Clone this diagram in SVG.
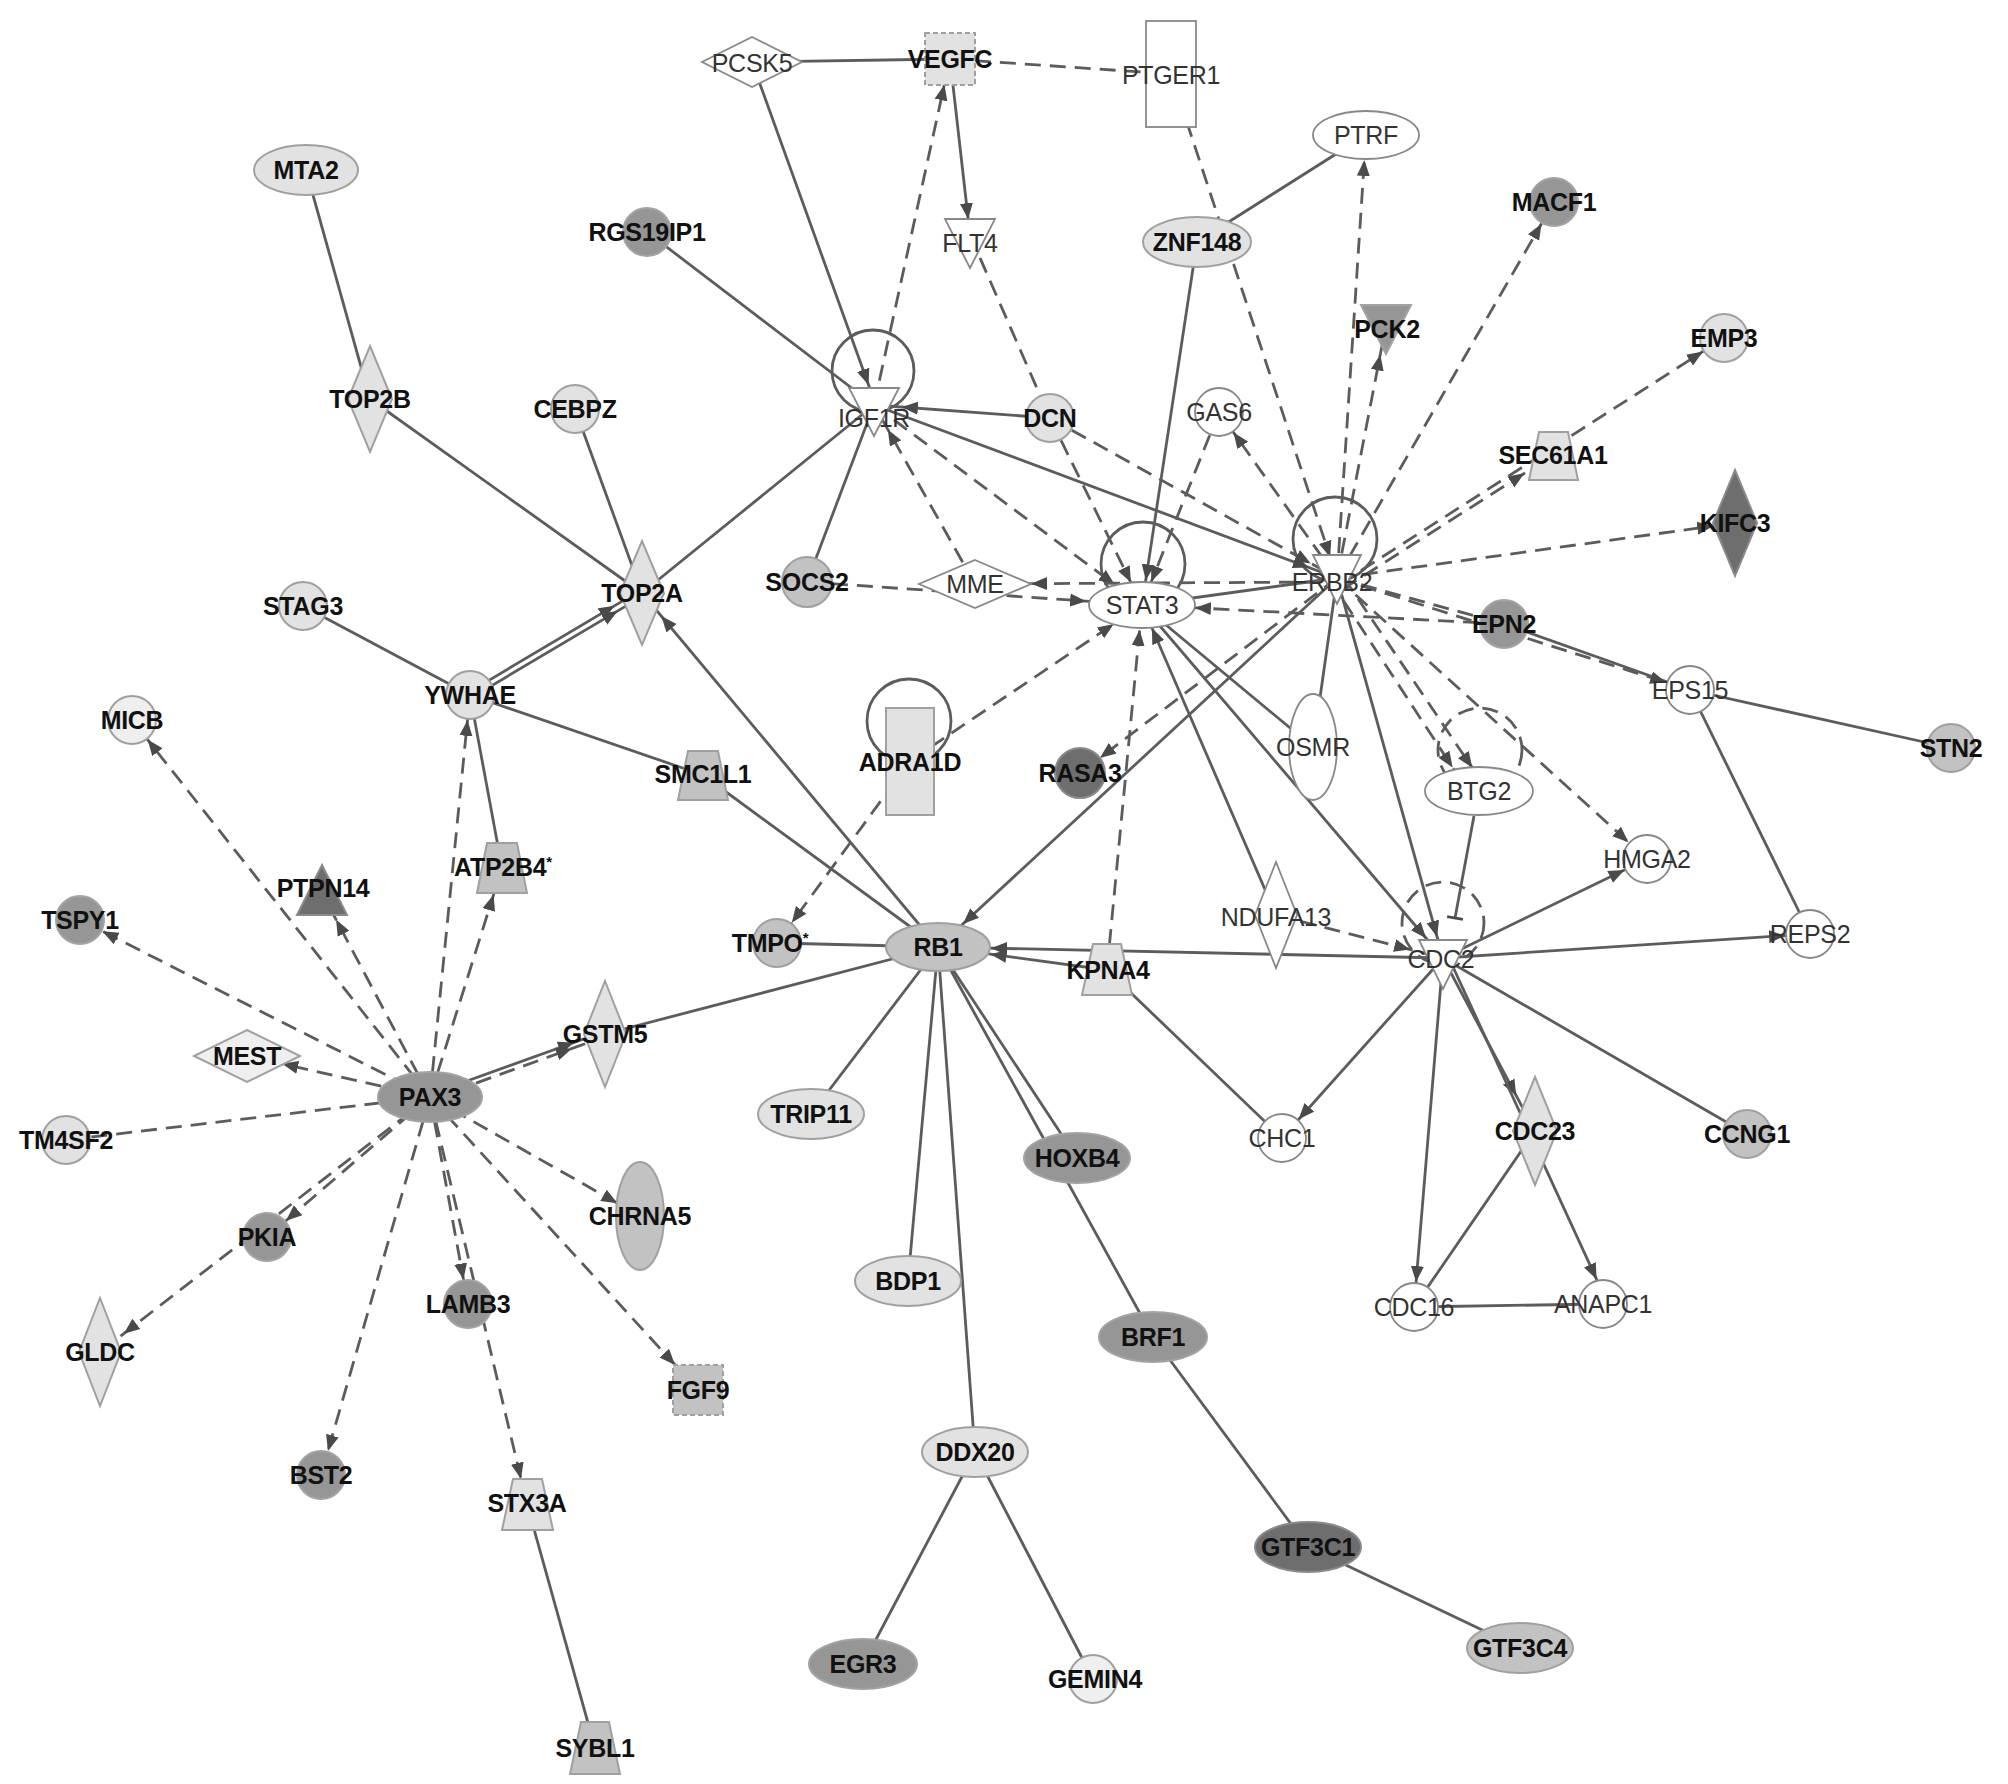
<svg xmlns="http://www.w3.org/2000/svg" width="2008" height="1784" viewBox="0 0 2008 1784">
<style>
.bg{fill:#fff}
.s{stroke:#5c5c5c;stroke-width:2.8;fill:none}
.ds{stroke:#5c5c5c;stroke-width:2.8;fill:none;stroke-dasharray:16 9}
.ah{fill:#4a4a4a}
.w{fill:#fff;stroke:#888;stroke-width:1.8}
.l1{fill:#efefef;stroke:#a0a0a0;stroke-width:2}
.l2{fill:#e2e2e2;stroke:#a0a0a0;stroke-width:2}
.m{fill:#c2c2c2;stroke:#a0a0a0;stroke-width:2}
.md{fill:#969696;stroke:#a3a3a3;stroke-width:2}
.d{fill:#6e6e6e;stroke:#8a8a8a;stroke-width:2}
.dash{stroke-dasharray:5 3}
text{font-family:"Liberation Sans",Arial,sans-serif;font-size:25px;text-anchor:middle;letter-spacing:-0.3px}
.b{font-weight:bold;fill:#111}
.t{fill:#333}
</style>
<defs>
<marker id="a16" viewBox="0 -7 16 14" refX="32" refY="0" markerWidth="16" markerHeight="14" markerUnits="userSpaceOnUse" orient="auto"><path class="ah" d="M0,-6.5L16,0L0,6.5Z"/></marker>
<marker id="a22" viewBox="0 -7 16 14" refX="38" refY="0" markerWidth="16" markerHeight="14" markerUnits="userSpaceOnUse" orient="auto"><path class="ah" d="M0,-6.5L16,0L0,6.5Z"/></marker>
<marker id="a25" viewBox="0 -7 16 14" refX="41" refY="0" markerWidth="16" markerHeight="14" markerUnits="userSpaceOnUse" orient="auto"><path class="ah" d="M0,-6.5L16,0L0,6.5Z"/></marker>
<marker id="a26" viewBox="0 -7 16 14" refX="42" refY="0" markerWidth="16" markerHeight="14" markerUnits="userSpaceOnUse" orient="auto"><path class="ah" d="M0,-6.5L16,0L0,6.5Z"/></marker>
<marker id="a28" viewBox="0 -7 16 14" refX="44" refY="0" markerWidth="16" markerHeight="14" markerUnits="userSpaceOnUse" orient="auto"><path class="ah" d="M0,-6.5L16,0L0,6.5Z"/></marker>
<marker id="a30" viewBox="0 -7 16 14" refX="46" refY="0" markerWidth="16" markerHeight="14" markerUnits="userSpaceOnUse" orient="auto"><path class="ah" d="M0,-6.5L16,0L0,6.5Z"/></marker>
<marker id="a34" viewBox="0 -7 16 14" refX="50" refY="0" markerWidth="16" markerHeight="14" markerUnits="userSpaceOnUse" orient="auto"><path class="ah" d="M0,-6.5L16,0L0,6.5Z"/></marker>
<marker id="a36" viewBox="0 -7 16 14" refX="52" refY="0" markerWidth="16" markerHeight="14" markerUnits="userSpaceOnUse" orient="auto"><path class="ah" d="M0,-6.5L16,0L0,6.5Z"/></marker>
<marker id="a40" viewBox="0 -7 16 14" refX="56" refY="0" markerWidth="16" markerHeight="14" markerUnits="userSpaceOnUse" orient="auto"><path class="ah" d="M0,-6.5L16,0L0,6.5Z"/></marker>
<marker id="a53" viewBox="0 -7 16 14" refX="69" refY="0" markerWidth="16" markerHeight="14" markerUnits="userSpaceOnUse" orient="auto"><path class="ah" d="M0,-6.5L16,0L0,6.5Z"/></marker>
<marker id="a56" viewBox="0 -7 16 14" refX="72" refY="0" markerWidth="16" markerHeight="14" markerUnits="userSpaceOnUse" orient="auto"><path class="ah" d="M0,-6.5L16,0L0,6.5Z"/></marker>
<marker id="tbar" viewBox="-2 -9 4 18" refX="0" refY="0" markerWidth="4" markerHeight="18" markerUnits="userSpaceOnUse" orient="auto"><path d="M0,-8V8" stroke="#4a4a4a" stroke-width="2.8"/></marker>
</defs>
<rect class="bg" x="0" y="0" width="2008" height="1784"/>
<g id="connectors">
<circle class="s" cx="873" cy="371" r="41"/>
<circle class="s" cx="1143" cy="564" r="42"/>
<circle class="s" cx="1335" cy="539" r="42"/>
<circle class="s" cx="909" cy="721" r="42"/>
<circle class="ds" cx="1480" cy="750" r="42"/>
<circle class="ds" cx="1443" cy="923" r="41"/>
<path class="s" d="M752,62L950,59"/>
<path class="s" d="M752,62L874,400" marker-end="url(#a16)"/>
<path class="s" d="M950,59L970,235" marker-end="url(#a16)"/>
<path class="s" d="M1197,242L1366,135"/>
<path class="s" d="M1197,242L1142,605" marker-end="url(#a25)"/>
<path class="s" d="M647,232L874,405"/>
<path class="s" d="M1050,418L874,405" marker-end="url(#a28)"/>
<path class="s" d="M874,405L807,582"/>
<path class="s" d="M874,405L642,593"/>
<path class="s" d="M874,405L1337,578" marker-end="url(#a30)"/>
<path class="s" d="M1142,605L1337,578"/>
<path class="s" d="M1142,605L1313,747"/>
<path class="s" d="M1337,578L1313,747"/>
<path class="s" d="M1276,915L1142,605" marker-end="url(#a25)"/>
<path class="s" d="M1142,605L1443,958" marker-end="url(#a26)"/>
<path class="s" d="M1337,578L1443,958" marker-end="url(#a22)"/>
<path class="s" d="M1337,578L938,947" marker-end="url(#a34)"/>
<path class="s" d="M1474,816L1455,918" marker-end="url(#tbar)"/>
<path class="s" d="M1443,958L1647,859" marker-end="url(#a25)"/>
<path class="s" d="M1443,958L1810,934" marker-end="url(#a25)"/>
<path class="s" d="M1443,958L938,947" marker-end="url(#a53)"/>
<path class="s" d="M1107,970L938,947" marker-end="url(#a53)"/>
<path class="s" d="M1107,970L1282,1138"/>
<path class="s" d="M1443,958L1282,1138" marker-end="url(#a25)"/>
<path class="s" d="M1443,958L1414,1307" marker-end="url(#a25)"/>
<path class="s" d="M1443,958L1535,1131" marker-end="url(#a40)"/>
<path class="s" d="M1448,956L1607,1302" marker-end="url(#a25)"/>
<path class="s" d="M1443,958L1747,1134"/>
<path class="s" d="M1535,1131L1414,1307"/>
<path class="s" d="M1414,1307L1603,1304"/>
<path class="s" d="M1504,624L1690,690"/>
<path class="s" d="M1690,690L1951,748"/>
<path class="s" d="M1690,690L1810,934"/>
<path class="s" d="M938,947L777,943"/>
<path class="s" d="M938,947L642,593" marker-end="url(#a30)"/>
<path class="s" d="M938,947L703,775"/>
<path class="s" d="M938,947L605,1034"/>
<path class="s" d="M938,947L811,1114"/>
<path class="s" d="M938,947L908,1281"/>
<path class="s" d="M938,947L975,1452"/>
<path class="s" d="M938,947L1077,1158"/>
<path class="s" d="M938,947L1153,1337"/>
<path class="s" d="M1153,1337L1308,1547"/>
<path class="s" d="M1308,1547L1520,1648"/>
<path class="s" d="M975,1452L863,1664"/>
<path class="s" d="M975,1452L1093,1679"/>
<path class="s" d="M303,606L470,695"/>
<path class="s" d="M471.5,697.6L643.5,595.6" marker-end="url(#a30)"/>
<path class="s" d="M468.5,692.4L640.5,590.4" marker-end="url(#a30)"/>
<path class="s" d="M470,695L703,775"/>
<path class="s" d="M470,695L502,868"/>
<path class="s" d="M306,170L370,399"/>
<path class="s" d="M370,399L642,593"/>
<path class="s" d="M575,409L642,593"/>
<path class="s" d="M431,1094L606,1031" marker-end="url(#a34)"/>
<path class="s" d="M527,1504L595,1748"/>
<path class="ds" d="M950,59L1171,74"/>
<path class="ds" d="M874,405L950,59" marker-end="url(#a26)"/>
<path class="ds" d="M970,235L1050,418"/>
<path class="ds" d="M1171,74L1337,578" marker-end="url(#a22)"/>
<path class="ds" d="M975,584L874,405" marker-end="url(#a28)"/>
<path class="ds" d="M874,405L1142,605" marker-end="url(#a34)"/>
<path class="ds" d="M1050,418L1142,605" marker-end="url(#a25)"/>
<path class="ds" d="M1050,418L1337,578" marker-end="url(#a30)"/>
<path class="ds" d="M1219,412L1142,605" marker-end="url(#a25)"/>
<path class="ds" d="M1337,578L1219,412" marker-end="url(#a25)"/>
<path class="ds" d="M1337,578L1366,135" marker-end="url(#a25)"/>
<path class="ds" d="M1337,578L1386,325" marker-end="url(#a30)"/>
<path class="ds" d="M1337,578L1554,202" marker-end="url(#a25)"/>
<path class="ds" d="M1343,589L1553,455" marker-end="url(#a34)"/>
<path class="ds" d="M1340,584L1724,338" marker-end="url(#a25)"/>
<path class="ds" d="M1337,578L1735,523" marker-end="url(#a22)"/>
<path class="ds" d="M1337,578L1504,624"/>
<path class="ds" d="M1337,578L1690,690" marker-end="url(#a25)"/>
<path class="ds" d="M1504,624L1142,605" marker-end="url(#a53)"/>
<path class="ds" d="M1337,578L1647,859" marker-end="url(#a25)"/>
<path class="ds" d="M1330,580L1468,791" marker-end="url(#a28)"/>
<path class="ds" d="M1344,578L1488,791" marker-end="url(#a28)"/>
<path class="ds" d="M1276,915L1443,958" marker-end="url(#a34)"/>
<path class="ds" d="M1107,970L1142,605" marker-end="url(#a25)"/>
<path class="ds" d="M1320,582L975,584" marker-end="url(#a56)"/>
<path class="ds" d="M807,582L1142,605" marker-end="url(#a56)"/>
<path class="ds" d="M910,761L1142,605" marker-end="url(#a34)"/>
<path class="ds" d="M1337,578L1080,773" marker-end="url(#a25)"/>
<path class="ds" d="M910,761L777,943" marker-end="url(#a25)"/>
<path class="ds" d="M430,1097L470,695" marker-end="url(#a25)"/>
<path class="ds" d="M430,1097L502,868" marker-end="url(#a28)"/>
<path class="ds" d="M430,1097L132,720" marker-end="url(#a25)"/>
<path class="ds" d="M430,1097L322,893" marker-end="url(#a30)"/>
<path class="ds" d="M430,1097L80,920" marker-end="url(#a25)"/>
<path class="ds" d="M430,1097L247,1056" marker-end="url(#a36)"/>
<path class="ds" d="M430,1097L66,1140"/>
<path class="ds" d="M429,1100L604,1037" marker-end="url(#a34)"/>
<path class="ds" d="M430,1097L267,1237" marker-end="url(#a25)"/>
<path class="ds" d="M430,1097L100,1352" marker-end="url(#a30)"/>
<path class="ds" d="M430,1097L321,1475" marker-end="url(#a25)"/>
<path class="ds" d="M430,1097L468,1304" marker-end="url(#a25)"/>
<path class="ds" d="M430,1097L527,1504" marker-end="url(#a26)"/>
<path class="ds" d="M430,1097L640,1216" marker-end="url(#a26)"/>
<path class="ds" d="M430,1097L698,1390" marker-end="url(#a34)"/>
</g>
<g id="n-PCSK5"><path class="w" d="M752,37L802,62L752,87L702,62Z"/><text class="t" x="752" y="72">PCSK5</text></g>
<g id="n-VEGFC"><rect class="l2 dash" x="925" y="33" width="50" height="52"/><text class="b" x="950" y="68">VEGFC</text></g>
<g id="n-PTGER1"><rect class="w" x="1146" y="21" width="50" height="106"/><text class="t" x="1171" y="84">PTGER1</text></g>
<g id="n-PTRF"><ellipse class="w" cx="1366" cy="135" rx="53" ry="24"/><text class="t" x="1366" y="144">PTRF</text></g>
<g id="n-MTA2"><ellipse class="l2" cx="306" cy="170" rx="52" ry="25"/><text class="b" x="306" y="179">MTA2</text></g>
<g id="n-RGS19IP1"><circle class="md" cx="647" cy="232" r="24"/><text class="b" x="647" y="241">RGS19IP1</text></g>
<g id="n-TOP2B"><path class="l2" d="M370,346L392,399L370,452L348,399Z"/><text class="b" x="370" y="408">TOP2B</text></g>
<g id="n-CEBPZ"><circle class="l2" cx="575" cy="409" r="24"/><text class="b" x="575" y="418">CEBPZ</text></g>
<g id="n-FLT4"><path class="w" d="M945,219L995,219L970,268Z"/><text class="t" x="970" y="252">FLT4</text></g>
<g id="n-ZNF148"><ellipse class="l2" cx="1197" cy="242" rx="54" ry="25"/><text class="b" x="1197" y="251">ZNF148</text></g>
<g id="n-MACF1"><circle class="md" cx="1554" cy="202" r="24"/><text class="b" x="1554" y="211">MACF1</text></g>
<g id="n-PCK2"><path class="md" d="M1361,305L1411,305L1386,354Z"/><text class="b" x="1387" y="338">PCK2</text></g>
<g id="n-EMP3"><circle class="l2" cx="1724" cy="338" r="24"/><text class="b" x="1724" y="347">EMP3</text></g>
<g id="n-SEC61A1"><path class="l2" d="M1539,432L1568,432L1578,480L1529,480Z"/><text class="b" x="1553" y="464">SEC61A1</text></g>
<g id="n-KIFC3"><path class="d" d="M1735,470L1757,523L1735,576L1713,523Z"/><text class="b" x="1735" y="532">KIFC3</text></g>
<g id="n-IGF1R"><path class="w" d="M849,388L899,388L874,436Z"/><text class="t" x="874" y="427">IGF1R</text></g>
<g id="n-DCN"><circle class="l2" cx="1050" cy="418" r="24"/><text class="b" x="1050" y="427">DCN</text></g>
<g id="n-GAS6"><circle class="w" cx="1219" cy="412" r="24"/><text class="t" x="1219" y="421">GAS6</text></g>
<g id="n-ERBB2"><path class="w" d="M1313,555L1361,555L1337,604Z"/><text class="t" x="1332" y="591">ERBB2</text></g>
<g id="n-STAT3"><ellipse class="w" cx="1142" cy="605" rx="53" ry="23"/><text class="t" x="1142" y="614">STAT3</text></g>
<g id="n-MME"><path class="w" d="M975,560L1031,584L975,608L919,584Z"/><text class="t" x="975" y="593">MME</text></g>
<g id="n-SOCS2"><circle class="m" cx="807" cy="582" r="25"/><text class="b" x="807" y="591">SOCS2</text></g>
<g id="n-TOP2A"><path class="l2" d="M642,541L664,593L642,645L620,593Z"/><text class="b" x="642" y="602">TOP2A</text></g>
<g id="n-STAG3"><circle class="l2" cx="303" cy="606" r="24"/><text class="b" x="303" y="615">STAG3</text></g>
<g id="n-YWHAE"><circle class="l2" cx="470" cy="695" r="24"/><text class="b" x="470" y="704">YWHAE</text></g>
<g id="n-MICB"><circle class="l1" cx="132" cy="720" r="24"/><text class="b" x="132" y="729">MICB</text></g>
<g id="n-SMC1L1"><path class="m" d="M688,751L718,751L728,800L678,800Z"/><text class="b" x="703" y="783">SMC1L1</text></g>
<g id="n-ADRA1D"><rect class="l2" x="886" y="708" width="48" height="107"/><text class="b" x="910" y="771">ADRA1D</text></g>
<g id="n-RASA3"><circle class="d" cx="1080" cy="773" r="25"/><text class="b" x="1080" y="782">RASA3</text></g>
<g id="n-OSMR"><ellipse class="w" cx="1313" cy="747" rx="24" ry="53"/><text class="t" x="1313" y="756">OSMR</text></g>
<g id="n-BTG2"><ellipse class="w" cx="1479" cy="791" rx="54" ry="24"/><text class="t" x="1479" y="800">BTG2</text></g>
<g id="n-HMGA2"><circle class="w" cx="1647" cy="859" r="24"/><text class="t" x="1647" y="868">HMGA2</text></g>
<g id="n-EPS15"><circle class="w" cx="1690" cy="690" r="24"/><text class="t" x="1690" y="699">EPS15</text></g>
<g id="n-EPN2"><circle class="md" cx="1504" cy="624" r="24"/><text class="b" x="1504" y="633">EPN2</text></g>
<g id="n-STN2"><circle class="m" cx="1951" cy="748" r="24"/><text class="b" x="1951" y="757">STN2</text></g>
<g id="n-REPS2"><circle class="w" cx="1810" cy="934" r="24"/><text class="t" x="1810" y="943">REPS2</text></g>
<g id="n-NDUFA13"><path class="w" d="M1276,862L1297,915L1276,968L1255,915Z"/><text class="t" x="1276" y="926">NDUFA13</text></g>
<g id="n-CDC2"><path class="w" d="M1419,940L1467,940L1443,989Z"/><text class="t" x="1441" y="968">CDC2</text></g>
<g id="n-KPNA4"><path class="l2" d="M1093,944L1121,944L1132,995L1082,995Z"/><text class="b" x="1108" y="979">KPNA4</text></g>
<g id="n-RB1"><ellipse class="m" cx="938" cy="947" rx="52" ry="24"/><text class="b" x="938" y="956">RB1</text></g>
<g id="n-TMPO"><circle class="m" cx="777" cy="943" r="24"/><text class="b" x="770" y="952">TMPO<tspan font-size="15" dy="-9">*</tspan></text></g>
<g id="n-ATP2B4"><path class="m" d="M487,843L517,843L527,893L477,893Z"/><text class="b" x="503" y="876">ATP2B4<tspan font-size="15" dy="-9">*</tspan></text></g>
<g id="n-PTPN14"><path class="d" d="M322,865L347,915L297,915Z"/><text class="b" x="323" y="897">PTPN14</text></g>
<g id="n-TSPY1"><circle class="md" cx="80" cy="920" r="24"/><text class="b" x="80" y="929">TSPY1</text></g>
<g id="n-MEST"><path class="l1" d="M247,1030L300,1056L247,1082L194,1056Z"/><text class="b" x="247" y="1065">MEST</text></g>
<g id="n-GSTM5"><path class="l2" d="M605,981L626,1034L605,1087L584,1034Z"/><text class="b" x="605" y="1043">GSTM5</text></g>
<g id="n-PAX3"><ellipse class="md" cx="430" cy="1097" rx="52" ry="25"/><text class="b" x="430" y="1106">PAX3</text></g>
<g id="n-TM4SF2"><circle class="l2" cx="66" cy="1140" r="24"/><text class="b" x="66" y="1149">TM4SF2</text></g>
<g id="n-CHRNA5"><ellipse class="m" cx="640" cy="1216" rx="24" ry="54"/><text class="b" x="640" y="1225">CHRNA5</text></g>
<g id="n-PKIA"><circle class="md" cx="267" cy="1237" r="24"/><text class="b" x="267" y="1246">PKIA</text></g>
<g id="n-GLDC"><path class="l2" d="M100,1298L121,1352L100,1406L79,1352Z"/><text class="b" x="100" y="1361">GLDC</text></g>
<g id="n-LAMB3"><circle class="md" cx="468" cy="1304" r="24"/><text class="b" x="468" y="1313">LAMB3</text></g>
<g id="n-FGF9"><rect class="m dash" x="673" y="1365" width="50" height="50"/><text class="b" x="698" y="1399">FGF9</text></g>
<g id="n-BST2"><circle class="md" cx="321" cy="1475" r="24"/><text class="b" x="321" y="1484">BST2</text></g>
<g id="n-STX3A"><path class="l2" d="M513,1479L542,1479L553,1530L502,1530Z"/><text class="b" x="527" y="1512">STX3A</text></g>
<g id="n-SYBL1"><path class="m" d="M581,1722L609,1722L620,1774L570,1774Z"/><text class="b" x="595" y="1757">SYBL1</text></g>
<g id="n-TRIP11"><ellipse class="l2" cx="811" cy="1114" rx="53" ry="25"/><text class="b" x="811" y="1123">TRIP11</text></g>
<g id="n-HOXB4"><ellipse class="md" cx="1077" cy="1158" rx="53" ry="25"/><text class="b" x="1077" y="1167">HOXB4</text></g>
<g id="n-BDP1"><ellipse class="l2" cx="908" cy="1281" rx="53" ry="25"/><text class="b" x="908" y="1290">BDP1</text></g>
<g id="n-BRF1"><ellipse class="md" cx="1153" cy="1337" rx="54" ry="25"/><text class="b" x="1153" y="1346">BRF1</text></g>
<g id="n-DDX20"><ellipse class="l2" cx="975" cy="1452" rx="53" ry="25"/><text class="b" x="975" y="1461">DDX20</text></g>
<g id="n-GTF3C1"><ellipse class="d" cx="1308" cy="1547" rx="53" ry="25"/><text class="b" x="1308" y="1556">GTF3C1</text></g>
<g id="n-GTF3C4"><ellipse class="m" cx="1520" cy="1648" rx="53" ry="25"/><text class="b" x="1520" y="1657">GTF3C4</text></g>
<g id="n-EGR3"><ellipse class="md" cx="863" cy="1664" rx="54" ry="25"/><text class="b" x="863" y="1673">EGR3</text></g>
<g id="n-GEMIN4"><circle class="l1" cx="1093" cy="1679" r="24"/><text class="b" x="1095" y="1688">GEMIN4</text></g>
<g id="n-CDC23"><path class="l2" d="M1535,1077L1557,1131L1535,1185L1513,1131Z"/><text class="b" x="1535" y="1140">CDC23</text></g>
<g id="n-CCNG1"><circle class="m" cx="1747" cy="1134" r="24"/><text class="b" x="1747" y="1143">CCNG1</text></g>
<g id="n-CHC1"><circle class="w" cx="1282" cy="1138" r="24"/><text class="t" x="1282" y="1147">CHC1</text></g>
<g id="n-CDC16"><circle class="w" cx="1414" cy="1307" r="24"/><text class="t" x="1414" y="1316">CDC16</text></g>
<g id="n-ANAPC1"><circle class="w" cx="1603" cy="1304" r="24"/><text class="t" x="1603" y="1313">ANAPC1</text></g>
</svg>
